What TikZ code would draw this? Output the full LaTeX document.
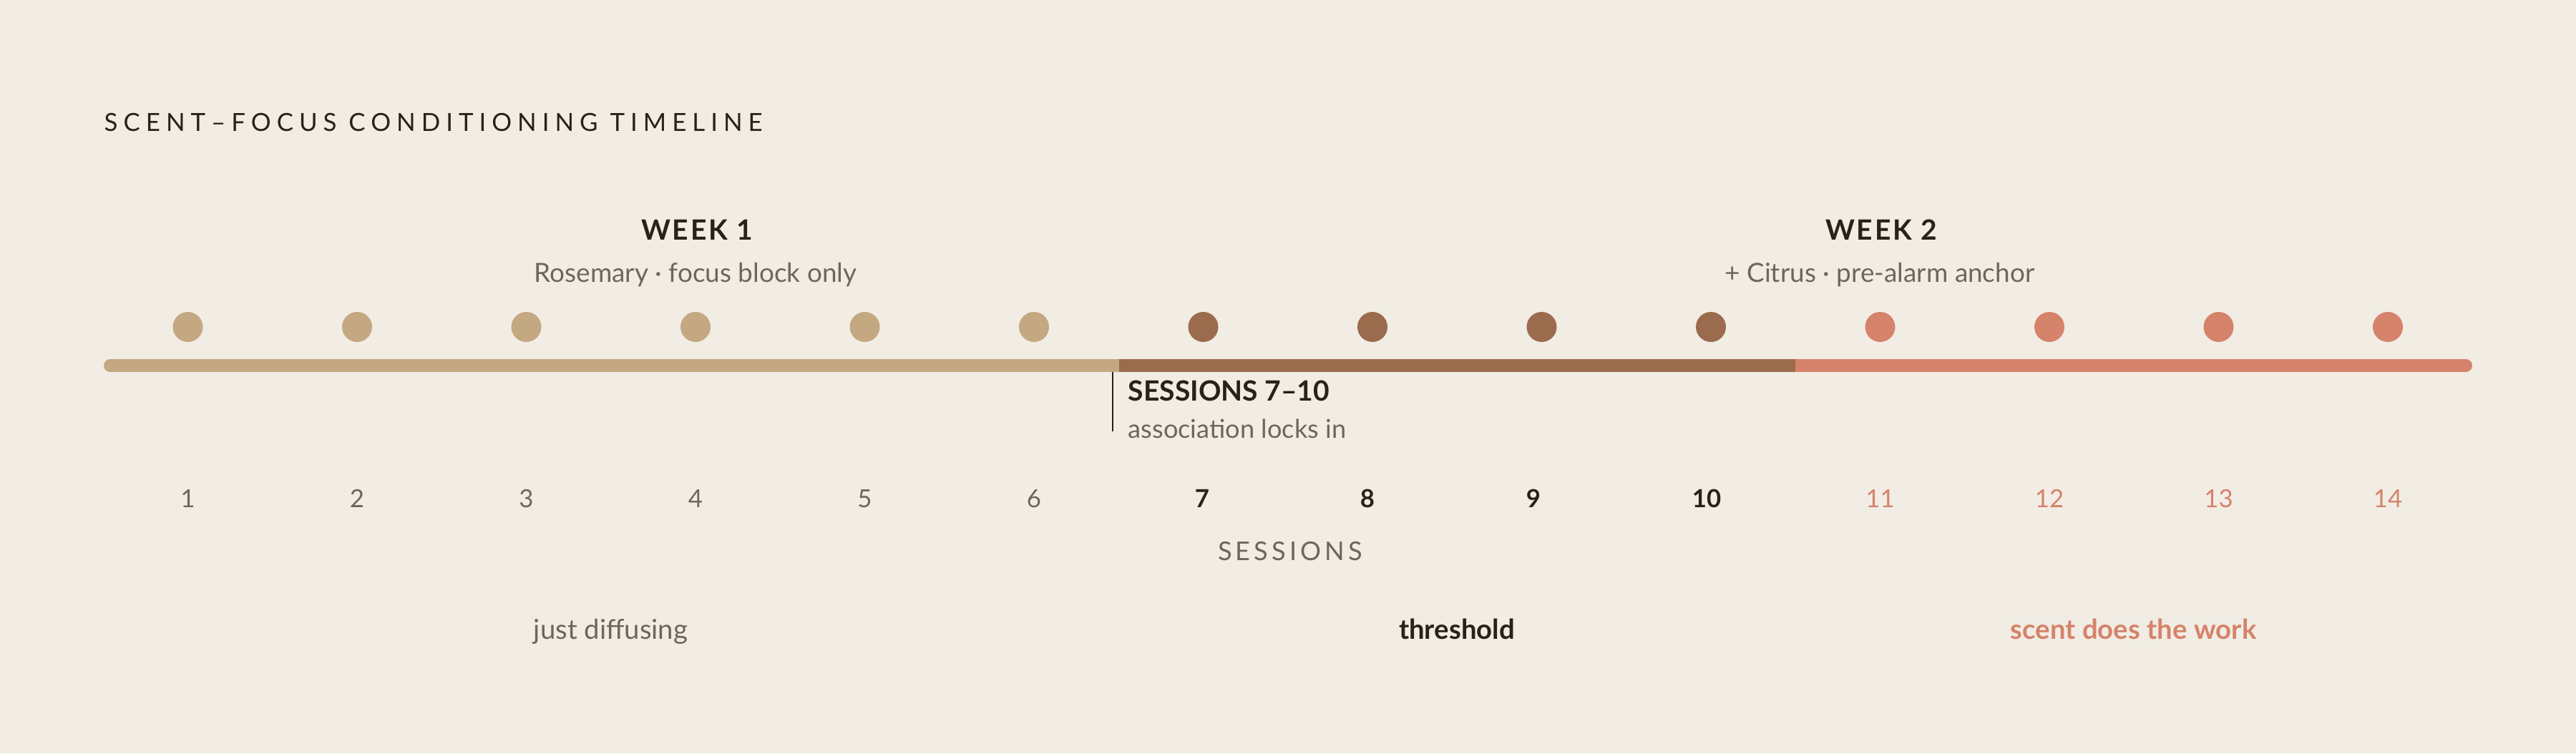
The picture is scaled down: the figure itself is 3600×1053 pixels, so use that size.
\documentclass[tikz,border=0pt]{standalone}
\usepackage{fontspec}
\setmainfont{Lato}
\newfontfamily\spacedfont[LetterSpace=23]{Lato}
\newfontfamily\axisfont[LetterSpace=14]{Lato}
\newfontfamily\weekfont[LetterSpace=7]{Lato}
\definecolor{paper}{HTML}{F2EDE4}
\definecolor{ink}{HTML}{2B2118}
\definecolor{mute}{HTML}{6E665B}
\definecolor{tan}{HTML}{C4A882}
\definecolor{bark}{HTML}{9B6B4E}
\definecolor{coral}{HTML}{D5836B}

\tikzset{
  label/.style={inner sep=0, anchor=base},
  dot/.style={circle, inner sep=0, minimum size=0.42cm},
}

\begin{document}
\begin{tikzpicture}[x=0.01cm, y=-0.01cm]
\fill[paper] (0,0) rectangle (3600,1053);
\useasboundingbox (0,0) rectangle (3600,1053);

% title
\node[label, anchor=base west, text=ink, font=\spacedfont\fontsize{9.9}{12}\selectfont] (title) at (145,183) {SCENT–FOCUS CONDITIONING TIMELINE};

% week headers
\node[label, text=ink, font=\weekfont\bfseries\fontsize{11.1}{13}\selectfont] (wk1) at (974,335) {WEEK 1};
\node[label, text=mute, font=\fontsize{10.5}{12}\selectfont] (wk1sub) at (972,394) {Rosemary · focus block only};
\node[label, text=ink, font=\weekfont\bfseries\fontsize{11.1}{13}\selectfont] (wk2) at (2629,335) {WEEK 2};
\node[label, text=mute, font=\fontsize{10.5}{12}\selectfont] (wk2sub) at (2627,394) {+ Citrus · pre-alarm anchor};

% bar
\coordinate (barL) at (154,511);
\coordinate (cut1) at (1563.5,511);
\coordinate (cut2) at (2509,511);
\coordinate (barR) at (3446,511);
\draw[tan, line width=5.12pt, line cap=round] (barL) -- (cut1);
\draw[coral, line width=5.12pt, line cap=round] (cut2) -- (barR);
\draw[bark, line width=5.12pt] (cut1) -- (cut2);

% sessions
\foreach \i in {1,...,6} {
  \node[dot, fill=tan] (d\i) at ({26+\i*236.5},457) {};
  \node[label, text=mute, font=\fontsize{9.9}{12}\selectfont] (n\i) at ({26+\i*236.5},709) {\i};
}
\foreach \i/\xx in {7/1680, 8/1911, 9/2143, 10/2385} {
  \node[dot, fill=bark] (d\i) at ({26+\i*236.5},457) {};
  \node[label, text=ink, font=\bfseries\fontsize{9.9}{12}\selectfont] (n\i) at (\xx,709) {\i};
}
\foreach \i in {11,...,14} {
  \node[dot, fill=coral] (d\i) at ({26+\i*236.5},457) {};
  \node[label, text=coral, font=\fontsize{9.9}{12}\selectfont] (n\i) at ({26+\i*236.5},709) {\i};
}

% threshold marker
\coordinate (mkT) at (1555,520);
\coordinate (mkB) at (1555,603);
\draw[ink, line width=0.6pt] (mkT) -- (mkB);
\node[label, anchor=base west, text=ink, font=\bfseries\fontsize{11.1}{13}\selectfont] (mk) at (1576,560) {SESSIONS 7–10};
\node[label, anchor=base west, text=mute, font=\fontsize{10.3}{12}\selectfont] (mksub) at (1576,612) {association locks in};

% axis label and phases
\node[label, text=mute, font=\axisfont\fontsize{10.3}{12}\selectfont] (axis) at (1803,783) {SESSIONS};
\node[label, text=mute, font=\fontsize{10.9}{13}\selectfont] (ph1) at (853.5,893) {just diffusing};
\node[label, text=ink, font=\bfseries\fontsize{10.9}{13}\selectfont] (ph2) at (2036,893) {threshold};
\node[label, text=coral, font=\bfseries\fontsize{10.9}{13}\selectfont] (ph3) at (2981.5,893) {scent does the work};
\end{tikzpicture}
\end{document}
